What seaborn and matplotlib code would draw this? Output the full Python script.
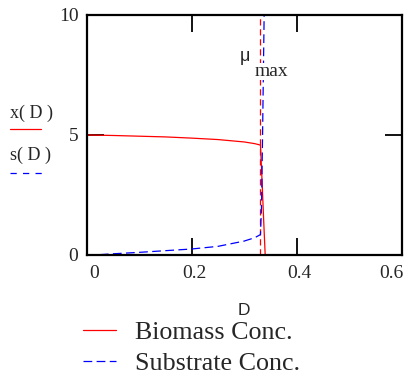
import numpy as np
import pandas as pd
import matplotlib
matplotlib.use("Agg")
import matplotlib.pyplot as plt
import matplotlib.transforms as mtransforms
import seaborn as sns
from matplotlib.lines import Line2D

# values
D_biomass = [0, 0.05, 0.1, 0.15, 0.2, 0.25, 0.3, 0.32, 0.331, 0.334, 0.337, 0.34]
x_biomass = [5.0, 4.98, 4.95, 4.92, 4.87, 4.81, 4.71, 4.64, 4.58, 3.1, 1.5, 0.0]

D_substrate = [0, 0.015, 0.05, 0.1, 0.15, 0.2, 0.25, 0.3, 0.32, 0.331, 0.333, 0.335, 0.338]
s_substrate = [0, 0.0, 0.05, 0.11, 0.18, 0.25, 0.36, 0.58, 0.72, 0.85, 2.0, 5.0, 10.0]

mu_max = 0.331
x_ticks = [0, 0.2, 0.4, 0.6]
x_ticklabels = ["0", "0.2", "0.4", "0.6"]
y_ticks = [0, 5, 10]

df_x = pd.DataFrame({"D": D_biomass, "val": x_biomass})
df_s = pd.DataFrame({"D": D_substrate, "val": s_substrate})

sns.set_style("white")
plt.rcParams["font.family"] = ["Liberation Serif", "DejaVu Serif"]

fig = plt.figure(figsize=(4.06, 3.74), dpi=100)
ax = fig.add_axes([0.2135, 0.3182, 0.7759, 0.6417])

sns.lineplot(data=df_x, x="D", y="val", ax=ax, color="#ff0000", lw=0.9,
             label="Biomass Conc.", sort=False, estimator=None)
sns.lineplot(data=df_s, x="D", y="val", ax=ax, color="#0000ff", lw=0.9,
             label="Substrate Conc.", sort=False, estimator=None)
ax.lines[1].set_dashes((7, 3.5))

# mu_max marker
ax.axvline(mu_max, color="#ff0000", lw=0.9, dashes=(5, 3), zorder=1)
ax.text(0.292, 8.25, "\u03bc", fontsize=13, family="Liberation Sans",
        ha="left", va="center", zorder=5)
ax.text(0.320, 7.65, "max", fontsize=14, ha="left", va="center", zorder=5,
        bbox=dict(facecolor="white", edgecolor="none", pad=0))

ax.set_xlim(0, 0.6)
ax.set_ylim(0, 10)
ax.set_xticks(x_ticks)
ax.set_xticklabels(x_ticklabels)
ax.set_yticks(y_ticks)
ax.tick_params(direction="in", length=12, width=1.3, color="black",
               top=True, right=True, bottom=True, left=True, labelsize=14)
ax.tick_params(axis="x", pad=7)
ax.tick_params(axis="y", pad=6)
for sp in ax.spines.values():
    sp.set_color("black")
    sp.set_linewidth(1.6)

# Mathcad-like tick label placement: nudged right, last one kept inside
shift = mtransforms.ScaledTranslation(3 / 100, 0, fig.dpi_scale_trans)
xlabels = ax.get_xticklabels()
for lab in xlabels:
    lab.set_transform(lab.get_transform() + shift)
xlabels[0].set_ha("left")
xlabels[-1].set_ha("right")
xlabels[-1].set_transform(xlabels[-1].get_transform()
                          + mtransforms.ScaledTranslation(-1.5 / 100, 0, fig.dpi_scale_trans))

ax.set_xlabel("D", fontsize=12.5, family="Liberation Sans", labelpad=15)
ax.set_ylabel("")

# y-axis trace labels on the left
fig.text(0.025, 0.697, "x( D )", fontsize=13, ha="left", va="center")
fig.add_artist(Line2D([0.025, 0.101], [0.655, 0.655], color="#ff0000", lw=0.9))
fig.text(0.025, 0.585, "s( D )", fontsize=13, ha="left", va="center")
fig.add_artist(Line2D([0.025, 0.106], [0.537, 0.537], color="#0000ff", lw=0.9,
                      dashes=(5, 5)))

ax.legend(loc="upper left", bbox_to_anchor=(0.205, 0.143), bbox_transform=fig.transFigure,
          frameon=False, fontsize=18.7, handlelength=1.25, handletextpad=0.75,
          labelspacing=0.3, borderpad=0, borderaxespad=0)

fig.savefig("out.png", dpi=100)
